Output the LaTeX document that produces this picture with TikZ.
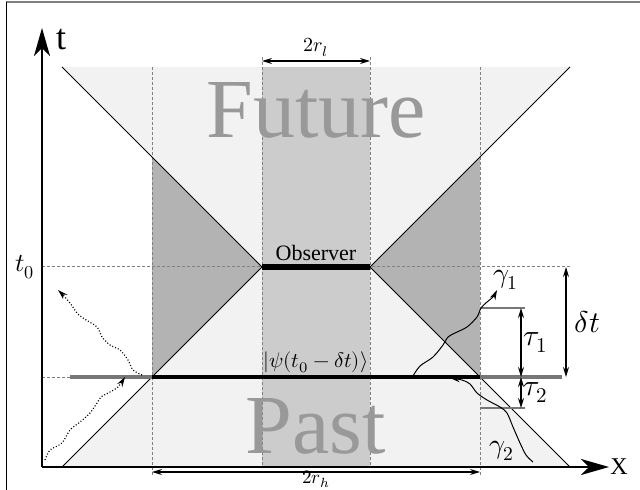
\documentclass[tikz,border=0pt]{standalone}
\usepackage{fontspec}
\usepackage{unicode-math}
\setmainfont{Liberation Serif}
\setmathfont{Latin Modern Math}
\usetikzlibrary{arrows.meta, positioning}

\definecolor{conegrey}{HTML}{F2F2F2}
\definecolor{bandgrey}{HTML}{CCCCCC}
\definecolor{darkgrey}{HTML}{B3B3B3}
\definecolor{wordgrey}{HTML}{999999}
\definecolor{slicegrey}{HTML}{777777}

\begin{document}
\begin{tikzpicture}[x=0.5pt, y=-0.5pt,
        cone/.style={line width=0.5pt},
        guide/.style={gray, line width=0.5pt, dash pattern=on 1.5pt off 1pt},
        dim/.style={{Stealth[length=5pt,width=3pt]}-{Stealth[length=5pt,width=3pt]}, line width=0.6pt},
        axis/.style={-{Stealth[length=14pt,width=8pt,inset=4pt]}, line width=1pt},
        photon/.style={-{Stealth[length=5pt,width=3pt]}, line width=0.5pt},
        signal/.style={photon, densely dotted, line width=0.6pt},
        slice/.style={line width=2.2pt},
        bigword/.style={wordgrey, font=\fontsize{42}{44}\selectfont, inner sep=0pt},
        lbl/.style={font=\fontsize{#1}{#1}\selectfont}
    ]
    \useasboundingbox (0,0) rectangle (640,490);

    % frame
    \draw[gray, line width=1pt] (6,2) -- (640,2);
    \draw[line width=0.5pt] (6,2) -- (6,490);

    % key points
    \coordinate (O) at (42,467);
    \coordinate (tTip) at (42,28);
    \coordinate (xTip) at (609,467);
    \coordinate (futL) at (62,67);
    \coordinate (futR) at (570,67);
    \coordinate (pastL) at (62,467);
    \coordinate (pastR) at (570,467);
    \coordinate (obsL) at (262,267);
    \coordinate (obsR) at (370,267);
    \coordinate (psiL) at (152,377);
    \coordinate (psiR) at (480,377);

    % cones and band
    \fill[conegrey] (futL) -- (futR) -- (obsR) -- (pastR) -- (pastL) -- (obsL) -- cycle;
    \fill[darkgrey] (152,157) -- (obsL) -- (psiL) -- cycle;
    \fill[darkgrey] (480,157) -- (obsR) -- (psiR) -- cycle;
    \fill[bandgrey] (262,67) rectangle (370,467);

    % guides
    \draw[guide] (152,67) -- (152,477);
    \draw[guide] (480,67) -- (480,477);
    \draw[guide] (262,57) -- (262,467);
    \draw[guide] (370,57) -- (370,467);
    \draw[guide] (42,267) -- (570,267);
    \draw[guide] (42,377) -- (70,377);

    \node[bigword, anchor=base] (future) at (316,138) {Future};
    \node[bigword, anchor=base] (past) at (316,453) {Past};

    % light cone edges
    \draw[cone] (futL) -- (obsL) -- (pastL);
    \draw[cone] (futR) -- (obsR) -- (pastR);

    % axes
    \draw[axis] (O) -- (tTip);
    \draw[axis] (O) -- (xTip);
    \node[lbl=18] (tlab) at (61,40) {t};
    \node[lbl=12, anchor=west, inner sep=0.5pt] (xlab) at (xTip) {X};
    \node[lbl=13, left, inner sep=3.5pt] (t0) at (42,267) {$t_0$};

    % slices
    \draw[slice, slicegrey] (70,377) -- (psiL);
    \draw[slice, slicegrey] (psiR) -- (562,377);
    \draw[slice] (psiL) -- (psiR);
    \draw[line width=3pt] (obsL) -- (obsR);
    \node[lbl=11, above, inner sep=1.5pt] (obs) at (316,264) {Observer};
    \node[lbl=10.5, above, inner sep=1pt] (psi) at (316,375) {$|\psi(t_0-\delta t)\rangle$};

    % widths
    \draw[dim] (262,61) -- node[lbl=10, above, inner sep=2pt] (rl) {$2r_l$} (370,61);
    \draw[dim] (152,472) -- (480,472);
    \node[lbl=9.5, anchor=base, inner sep=0pt] (rh) at (316,483) {$2r_h$};

    % times
    \draw[slicegrey, line width=0.6pt] (480,308) -- (525,308);
    \draw[slicegrey, line width=0.6pt] (480,408) -- (525,408);
    \draw[dim] (521,308) -- node[lbl=15, right, inner sep=1pt] (tau1) {$\tau_1$} (521,377);
    \draw[dim] (521,377) -- node[lbl=15, right, inner sep=1pt] (tau2) {$\tau_2$} (521,408);
    \draw[dim] (566,267) -- node[lbl=15, right, inner sep=4pt] (dt) {$\delta t$} (566,377);

    % signals
    \coordinate (g1s) at (413,376);
    \coordinate (g1e) at (497,290);
    \coordinate (g2s) at (533,462);
    \coordinate (g2e) at (450,378);
    \draw[photon] plot[smooth] coordinates {(g1s) (420,366) (433,357) (443,345) (448,337) (455,333) (467,327) (477,317) (481,308) (487,302) (493,297) (g1e)};
    \draw[photon] plot[smooth] coordinates {(g2s) (526,455) (520,443) (513,427) (507,413) (500,407) (487,400) (477,393) (470,384) (462,380) (g2e)};
    \node[lbl=14] (g1) at (506,280) {$\gamma_1$};
    \node[lbl=14] (g2) at (502,451) {$\gamma_2$};

    \coordinate (s1s) at (142,375);
    \coordinate (s1e) at (58,290);
    \coordinate (s2s) at (45,460);
    \coordinate (s2e) at (125,377);
    \draw[signal] plot[smooth] coordinates {(s1s) (133,370) (128,360) (120,350) (110,345) (102,337) (97,327) (83,318) (77,313) (70,303) (63,295) (s1e)};
    \draw[signal] plot[smooth] coordinates {(s2s) (50,450) (62,443) (70,430) (80,422) (90,413) (97,403) (101,397) (110,392) (118,387) (s2e)};
\end{tikzpicture}
\end{document}
